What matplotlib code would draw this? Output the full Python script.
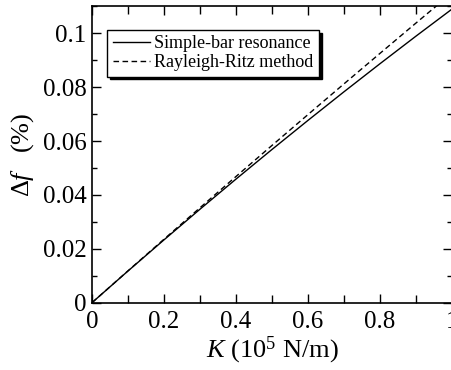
import matplotlib
matplotlib.use("Agg")
import matplotlib.pyplot as plt
from matplotlib.ticker import MultipleLocator, FixedFormatter, FixedLocator

plt.rcParams['font.family'] = ['Liberation Serif', 'DejaVu Serif']
plt.rcParams['mathtext.fontset'] = 'custom'
plt.rcParams['mathtext.rm'] = 'Liberation Serif'
plt.rcParams['mathtext.it'] = 'Liberation Serif:italic'

K = [0.0, 0.1, 0.2, 0.3, 0.4, 0.5, 0.6, 0.7, 0.8, 0.9, 1.0]
simple_bar = [0.0, 0.01176, 0.02332, 0.03470, 0.04588, 0.05688,
              0.06768, 0.07830, 0.08872, 0.09896, 0.1090]
rayleigh_ritz = [0.0, 0.01182, 0.02356, 0.03524, 0.04684, 0.05838,
                 0.06984, 0.08124, 0.09256, 0.10382, 0.1150]
xticks = [0, 0.2, 0.4, 0.6, 0.8, 1.0]
xticklabels = ['0', '0.2', '0.4', '0.6', '0.8', '1']
yticks = [0, 0.02, 0.04, 0.06, 0.08, 0.1]
yticklabels = ['0', '0.02', '0.04', '0.06', '0.08', '0.1']

fig = plt.figure(figsize=(4.51, 3.70), dpi=100)
ax = fig.add_axes([0.204, 0.182, 0.798, 0.802])

ax.plot(K, simple_bar, color='black', lw=1.0, ls='-', label='Simple-bar resonance')
ax.plot(K, rayleigh_ritz, color='black', lw=1.0, ls=(0, (4, 2.5)), label='Rayleigh-Ritz method')

ax.set_xlim(0, 1)
ax.set_ylim(0, 0.1102)

ax.xaxis.set_major_locator(FixedLocator(xticks))
ax.xaxis.set_major_formatter(FixedFormatter(xticklabels))
ax.xaxis.set_minor_locator(MultipleLocator(0.1))
ax.yaxis.set_major_locator(FixedLocator(yticks))
ax.yaxis.set_major_formatter(FixedFormatter(yticklabels))
ax.yaxis.set_minor_locator(MultipleLocator(0.01))

ax.tick_params(which='both', direction='in', top=True, right=True, width=1.0,
               labelsize=18)
ax.tick_params(axis='y', which='major', length=6.5, pad=4)
ax.tick_params(axis='y', which='minor', length=3.5)
ax.tick_params(axis='x', which='major', length=6.5, pad=6)
ax.tick_params(axis='x', which='minor', length=6.0)
for s in ax.spines.values():
    s.set_linewidth(1.2)

ax.set_xlabel(r'$K$ (10$^5$ N/m)', fontsize=19, labelpad=1)
ax.set_ylabel(r'$\Delta f$   (%)', fontsize=19, labelpad=5)

leg = ax.legend(loc='upper left', bbox_to_anchor=(0.042, 0.919), borderaxespad=0,
                fontsize=13, frameon=True, fancybox=False, framealpha=1,
                edgecolor='black', shadow={'color': 'black', 'alpha': 1},
                handlelength=2.1, handletextpad=0.2, labelspacing=0.1,
                borderpad=0.3)
leg.get_frame().set_linewidth(1.0)

fig.savefig('out.png', dpi=100)
